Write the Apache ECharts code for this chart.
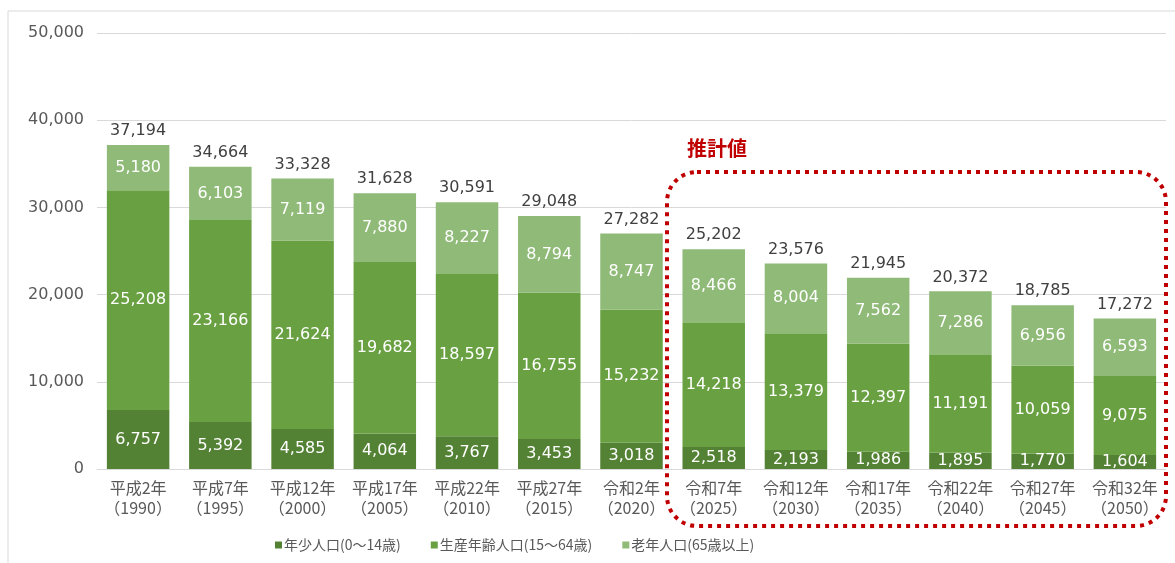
<!DOCTYPE html>
<html><head><meta charset="utf-8">
<script src="https://cdn.jsdelivr.net/npm/echarts@6/dist/echarts.min.js"></script>
<style>html,body{margin:0;padding:0;background:#fff;}#c{width:1175px;height:563px;}</style>
</head><body><div id="c"></div>
<script>
const categories = ['平成2年\n（1990）','平成7年\n（1995）','平成12年\n（2000）','平成17年\n（2005）','平成22年\n（2010）','平成27年\n（2015）','令和2年\n（2020）','令和7年\n（2025）','令和12年\n（2030）','令和17年\n（2035）','令和22年\n（2040）','令和27年\n（2045）','令和32年\n（2050）'];
const young = [6757,5392,4585,4064,3767,3453,3018,2518,2193,1986,1895,1770,1604];
const working = [25208,23166,21624,19682,18597,16755,15232,14218,13379,12397,11191,10059,9075];
const old = [5180,6103,7119,7880,8227,8794,8747,8466,8004,7562,7286,6956,6593];
const totals = [37194,34664,33328,31628,30591,29048,27282,25202,23576,21945,20372,18785,17272];
const seriesNames = ['年少人口(0～14歳)','生産年齢人口(15～64歳)','老年人口(65歳以上)'];
const yTicks = [0,10000,20000,30000,40000,50000];

const font = 'DejaVu Sans, "Noto Sans CJK JP", sans-serif';
const fmt = v => Number(v).toLocaleString('en-US');
const inLabel = {show:true, position:'inside', color:'#fff', fontSize:16, fontFamily:font, formatter:p=>fmt(p.value)};

const chart = echarts.init(document.getElementById('c'));
chart.setOption({
  animation:false,
  backgroundColor:'#fff',
  grid:{left:97,right:9,top:33,bottom:94},
  legend:{
    data:seriesNames, left:270, top:533, icon:'rect', itemWidth:7, itemHeight:7, itemGap:30,
    textStyle:{color:'#595959', fontSize:14, fontFamily:'"Noto Sans CJK JP", sans-serif', padding:[0,0,0,-3]}
  },
  xAxis:{
    type:'category', data:categories,
    axisLine:{show:true, lineStyle:{color:'#d9d9d9'}}, axisTick:{show:false},
    axisLabel:{color:'#595959', fontSize:16, lineHeight:20, margin:9, fontFamily:'"Noto Sans CJK JP", sans-serif', interval:0}
  },
  yAxis:{
    type:'value', min:yTicks[0], max:yTicks[yTicks.length-1], interval:yTicks[1]-yTicks[0],
    axisLine:{show:false}, axisTick:{show:false},
    splitLine:{lineStyle:{color:'#d9d9d9'}},
    axisLabel:{color:'#595959', fontSize:16, margin:13, fontFamily:font, formatter:v=>fmt(v)}
  },
  series:[
    {name:seriesNames[0], type:'bar', stack:'p', data:young, barCategoryGap:'24%', itemStyle:{color:'#548235'}, label:inLabel},
    {name:seriesNames[1], type:'bar', stack:'p', data:working, itemStyle:{color:'#69a142'}, label:inLabel},
    {name:seriesNames[2], type:'bar', stack:'p', data:old, itemStyle:{color:'#8fba77'}, label:inLabel},
    {name:'total', type:'bar', stack:'p', data:totals.map(()=>0), itemStyle:{color:'transparent'},
     label:{show:true, position:'top', distance:6, color:'#404040', fontSize:16, fontFamily:font, formatter:p=>fmt(totals[p.dataIndex])}}
  ],
  graphic:[
    {type:'rect', shape:{x:8,y:11,width:1200,height:600}, style:{fill:'none', stroke:'#d9d9d9', lineWidth:1}, silent:true},
    {type:'rect', shape:{x:667,y:172,width:499,height:354,r:30}, style:{fill:'none', stroke:'#c00000', lineWidth:4, lineDash:[4,5]}, silent:true, z:100},
    {type:'text', left:687, top:138, style:{text:'推計値', fill:'#c00000', font:'bold 20px "Noto Sans CJK JP", sans-serif'}, z:100}
  ]
});
</script></body></html>
